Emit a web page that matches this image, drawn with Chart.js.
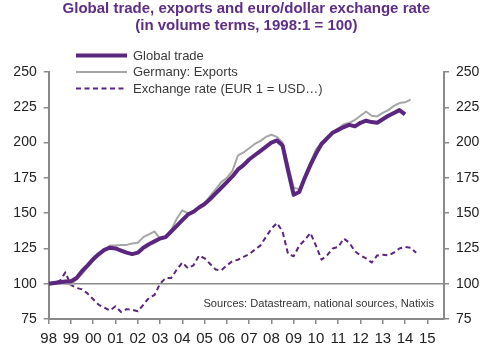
<!DOCTYPE html>
<html>
<head>
<meta charset="utf-8">
<script src="https://cdn.jsdelivr.net/npm/chart.js@4/dist/chart.umd.min.js"></script>
<style>
  html, body { margin: 0; padding: 0; background: #fff; }
  #wrap { width: 500px; height: 353px; }
</style>
</head>
<body>
<div id="wrap"><canvas id="chart"></canvas></div>
<script>
// quarterly dates, 1998:1 .. 2014:3
const quarters = [
  1998, 1998.25, 1998.5, 1998.75, 1999, 1999.25, 1999.5, 1999.75,
  2000, 2000.25, 2000.5, 2000.75, 2001, 2001.25, 2001.5, 2001.75,
  2002, 2002.25, 2002.5, 2002.75, 2003, 2003.25, 2003.5, 2003.75,
  2004, 2004.25, 2004.5, 2004.75, 2005, 2005.25, 2005.5, 2005.75,
  2006, 2006.25, 2006.5, 2006.75, 2007, 2007.25, 2007.5, 2007.75,
  2008, 2008.25, 2008.5, 2008.75, 2009, 2009.25, 2009.5, 2009.75,
  2010, 2010.25, 2010.5, 2010.75, 2011, 2011.25, 2011.5, 2011.75,
  2012, 2012.25, 2012.5, 2012.75, 2013, 2013.25, 2013.5, 2013.75,
  2014, 2014.25, 2014.5
];

const globalTrade = [
  100, 100.5, 101, 101.5, 101.8, 104, 109, 113,
  117.5, 121, 124, 125.5, 125, 123.5, 122, 121,
  122, 125.5, 128, 130, 132, 133, 137, 141,
  145, 149, 151, 154, 156.5, 160, 164, 168,
  172, 176, 181, 184, 188, 191, 194, 197,
  200, 201.5, 198, 180, 163, 165, 175, 184,
  192, 199, 203, 207, 209, 211, 212.5, 211.5,
  214, 215.5, 214.5, 214, 216.5, 219, 221, 223,
  220
];

const germanyExports = [
  100, 100.5, 101, 100, 99.5, 103, 107, 112,
  116, 120, 123.5, 127, 127, 127.5, 127.5, 128.5,
  129, 133, 135, 137, 132, 133, 138, 146,
  152, 150, 151, 154, 157, 162, 167, 172,
  175, 180, 191, 193, 196, 199, 201, 204,
  205.5, 204, 200, 184, 168, 167, 176, 186,
  195, 200, 204, 207, 210, 213, 214, 216,
  219, 222, 219, 218.5, 221, 223, 226, 228,
  228.5, 230.5
];

const exchangeRate = [
  100, 101, 102, 108, 99, 97, 96, 93,
  89, 85, 83, 81, 84, 80, 82, 81.5,
  80.5, 85, 90, 92, 100, 104, 104, 110,
  115, 111, 113, 120, 118, 114, 110, 109.5,
  113, 116, 117, 119, 121, 124, 127, 133,
  139, 143, 137, 121, 119.5, 127, 131, 136,
  127, 117, 120, 125, 126, 132, 129, 123,
  120, 118, 115, 120, 120.5, 120, 122, 125,
  126, 125.5, 122
];

const seriesNames = ['Global trade', 'Germany: Exports', 'Exchange rate (EUR 1 = USD\u2026)'];
const titleLines = ['Global trade, exports and euro/dollar exchange rate', '(in volume terms, 1998:1 = 100)'];
const sourceNote = 'Sources: Datastream, national sources, Natixis';

const PURPLE = '#5b2680';
const GREY_LINE = '#a6a6a6';
const AXIS = '#8a8a8a';
const FONT = "Arial, 'Liberation Sans', sans-serif";

function toPoints(values) {
  return values.map((v, i) => ({ x: quarters[i], y: v }));
}

// legend drawn inside the top-left corner, plus the sources note
const annotations = {
  id: 'annotations',
  afterDraw(chart) {
    const ctx = chart.ctx;
    const area = chart.chartArea;
    ctx.save();
    ctx.font = '13px ' + FONT;
    ctx.textBaseline = 'middle';
    const rows = [55.5, 72, 88.5];
    chart.data.datasets.forEach((ds, i) => {
      const y = rows[i];
      ctx.beginPath();
      ctx.strokeStyle = ds.borderColor;
      ctx.lineWidth = ds.borderWidth;
      ctx.setLineDash(ds.borderDash || []);
      ctx.moveTo(76, y);
      ctx.lineTo(127, y);
      ctx.stroke();
      ctx.setLineDash([]);
      ctx.fillStyle = '#3a3a3a';
      ctx.textAlign = 'left';
      ctx.fillText(ds.label, 133, y + 0.5);
    });
    ctx.font = '11.1px ' + FONT;
    ctx.textAlign = 'right';
    ctx.fillStyle = '#333';
    ctx.fillText(sourceNote, area.right - 10, 304);
    ctx.restore();
  }
};

new Chart(document.getElementById('chart'), {
  type: 'line',
  data: {
    datasets: [
      {
        label: seriesNames[0],
        data: toPoints(globalTrade),
        borderColor: PURPLE,
        borderWidth: 4,
        order: 0
      },
      {
        label: seriesNames[1],
        data: toPoints(germanyExports),
        borderColor: GREY_LINE,
        borderWidth: 2,
        order: 1
      },
      {
        label: seriesNames[2],
        data: toPoints(exchangeRate),
        borderColor: PURPLE,
        borderWidth: 2,
        borderDash: [5, 3.5],
        order: 2
      }
    ]
  },
  options: {
    responsive: true,
    maintainAspectRatio: false,
    animation: false,
    elements: {
      point: { radius: 0 },
      line: { tension: 0, borderJoinStyle: 'round', borderCapStyle: 'butt' }
    },
    layout: { padding: 0 },
    plugins: {
      legend: { display: false },
      tooltip: { enabled: false },
      title: {
        display: true,
        fullSize: false,
        text: titleLines,
        color: '#5e2d84',
        font: { family: FONT, size: 15, weight: 'bold', lineHeight: 1.1 },
        padding: { top: 1, bottom: 38 }
      }
    },
    scales: {
      x: {
        type: 'linear',
        min: 1998,
        max: 2015.75,
        afterFit(scale) { scale.height = 34; },
        border: { display: true, color: AXIS, width: 2 },
        grid: { drawOnChartArea: false, tickColor: AXIS, tickLength: 5, lineWidth: 1.5 },
        ticks: {
          stepSize: 1,
          includeBounds: false,
          maxRotation: 0,
          autoSkip: false,
          padding: 6,
          color: '#222',
          font: { family: FONT, size: 15 },
          callback: v => String(v % 100).padStart(2, '0')
        }
      },
      y: {
        position: 'left',
        min: 75,
        max: 250,
        afterFit(scale) { scale.width = 48.7; },
        border: { display: true, color: AXIS, width: 2 },
        grid: {
          drawOnChartArea: true,
          color: c => (c.tick && c.tick.value === 100 ? AXIS : 'rgba(0,0,0,0)'),
          tickColor: AXIS,
          tickLength: 5,
          lineWidth: 1.5
        },
        ticks: {
          stepSize: 25,
          padding: 7,
          color: '#222',
          font: { family: FONT, size: 14 }
        }
      },
      y2: {
        position: 'right',
        min: 75,
        max: 250,
        afterFit(scale) { scale.width = 56; },
        border: { display: true, color: AXIS, width: 2 },
        grid: { drawOnChartArea: false, tickColor: AXIS, tickLength: 5, lineWidth: 1.5 },
        ticks: {
          stepSize: 25,
          padding: 7,
          color: '#222',
          font: { family: FONT, size: 14 }
        }
      }
    }
  },
  plugins: [annotations]
});
</script>
</body>
</html>
